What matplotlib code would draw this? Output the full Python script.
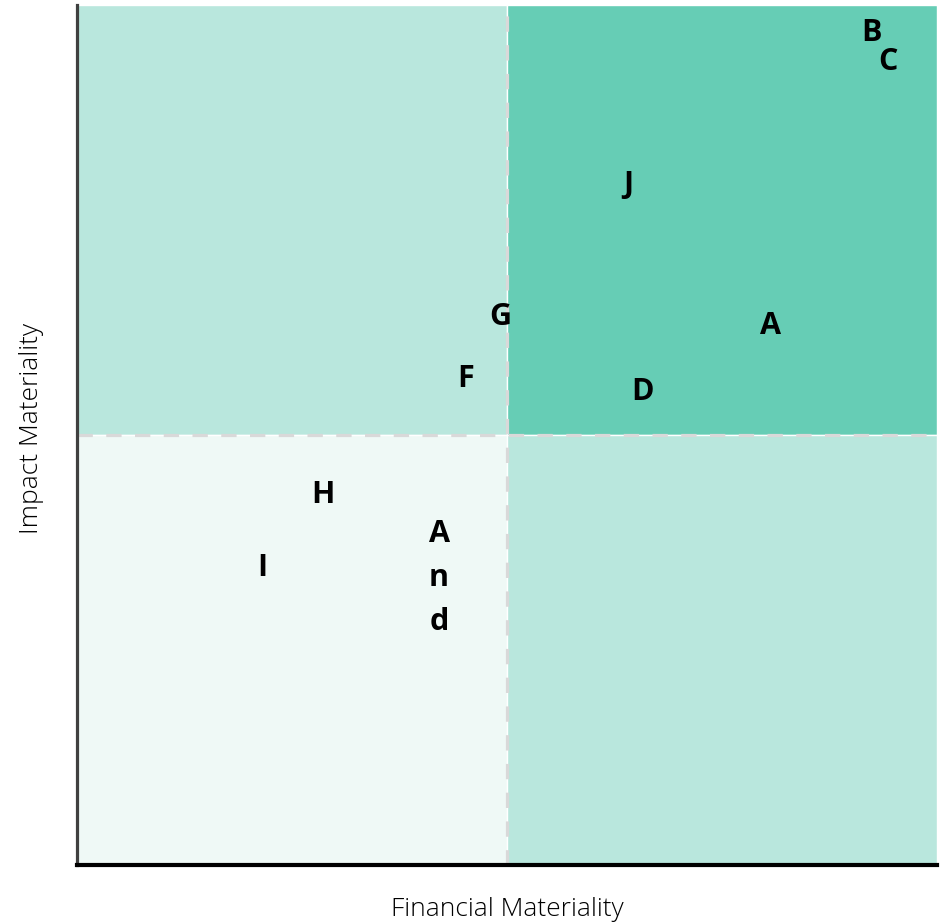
import matplotlib
matplotlib.use("Agg")
import matplotlib.pyplot as plt
from matplotlib.patches import Rectangle

# quadrant fills: (x0, y0, colour)
quad_x = [0, 5, 0, 5]
quad_y = [5, 5, 0, 0]
quad_colors = ["#b9e7dd", "#66cdb5", "#eff9f6", "#b9e7dd"]
split = 5

# topics placed on the matrix
labels = ["B", "C", "J", "G", "A", "F", "D", "H", "A\nn\nd", "I"]
fin = [9.24, 9.43, 6.41, 4.92, 8.06, 4.52, 6.57, 2.86, 4.21, 2.15]
imp = [9.67, 9.34, 7.91, 6.37, 6.27, 5.65, 5.50, 4.30, 3.34, 3.45]

plt.rcParams['font.family'] = ['Open Sans', 'DejaVu Sans']

fig = plt.figure(figsize=(9.44, 9.24), dpi=100)
ax = fig.add_axes([77 / 944, 59 / 924, 860 / 944, 860 / 924])
ax.set_xlim(0, 10)
ax.set_ylim(0, 10)

for x0, y0, c in zip(quad_x, quad_y, quad_colors):
    ax.add_patch(Rectangle((x0, y0), 5, 5, facecolor=c, edgecolor="white", lw=1, zorder=1))

ax.plot([split, split], [0, 10], color="#d9d9d9", lw=2.3, ls=(0, (4.8, 4.2)), zorder=2)
ax.plot([0, 10], [split, split], color="#d9d9d9", lw=2.3, ls=(0, (4.8, 4.2)), zorder=2)

for t, x, y in zip(labels, fin, imp):
    ax.text(x, y, t, ha="center", va="center", fontsize=22, fontweight="bold",
            color="black", linespacing=1.6, zorder=3)

for s in ["top", "right"]:
    ax.spines[s].set_visible(False)
ax.spines["left"].set_color("#404040")
ax.spines["left"].set_linewidth(2.3)
ax.spines["bottom"].set_color("black")
ax.spines["bottom"].set_linewidth(3)
ax.set_xticks([])
ax.set_yticks([])

fig.text(507 / 944, 1 - 910 / 924, "Financial Materiality", ha="center", va="center",
         fontsize=19, fontweight="light", color="#000000")
fig.text(31 / 944, 1 - 428 / 924, "Impact Materiality", ha="center", va="center",
         rotation=90, fontsize=19, fontweight="light", color="#000000")

fig.savefig("out.png", dpi=100)
